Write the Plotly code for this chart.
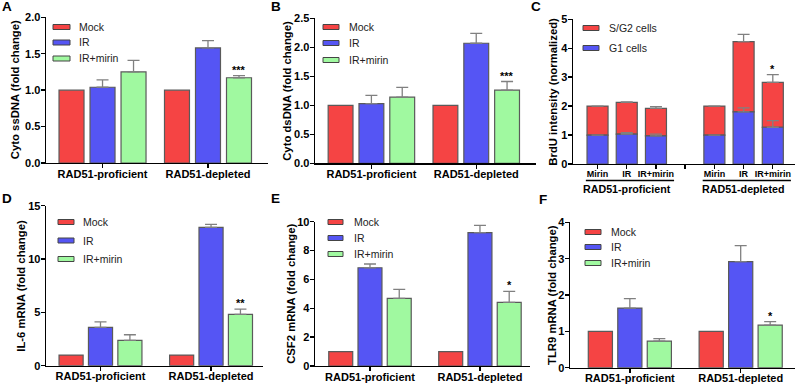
import plotly.graph_objects as go

W, H = 796, 386

# ---------------- data ----------------
groups = ["RAD51-proficient", "RAD51-depleted"]
treatments = ["Mock", "IR", "IR+mirin"]

# A: Cyto ssDNA (fold change)
ssdna_mock = [1.00, 1.00]
ssdna_ir = [1.04, 1.58]
ssdna_ir_err = [0.10, 0.10]
ssdna_irm = [1.25, 1.17]
ssdna_irm_err = [0.16, 0.03]

# B: Cyto dsDNA (fold change)
dsdna_mock = [1.00, 1.00]
dsdna_ir = [1.03, 2.07]
dsdna_ir_err = [0.14, 0.17]
dsdna_irm = [1.14, 1.26]
dsdna_irm_err = [0.17, 0.15]

# C: BrdU intensity (normalized)
brdu_conditions = ["Mirin", "IR", "IR+mirin"]
brdu_g1 = [1.00, 1.03, 0.97, 1.00, 1.80, 1.27]
brdu_g1_err = [0.00, 0.05, 0.06, 0.00, 0.14, 0.23]
brdu_sg2 = [1.00, 1.10, 0.95, 1.00, 2.43, 1.55]
brdu_sg2_err = [0.00, 0.02, 0.06, 0.00, 0.25, 0.27]

# D: IL-6 mRNA (fold change)
il6_mock = [1.0, 1.0]
il6_ir = [3.6, 12.97]
il6_ir_err = [0.5, 0.28]
il6_irm = [2.38, 4.81]
il6_irm_err = [0.52, 0.5]

# E: CSF2 mRNA (fold change)
csf2_mock = [1.0, 1.0]
csf2_ir = [6.81, 9.24]
csf2_ir_err = [0.26, 0.51]
csf2_irm = [4.69, 4.41]
csf2_irm_err = [0.62, 0.76]

# F: TLR9 mRNA (fold change)
tlr9_mock = [1.0, 1.0]
tlr9_ir = [1.64, 2.92]
tlr9_ir_err = [0.26, 0.44]
tlr9_irm = [0.73, 1.17]
tlr9_irm_err = [0.07, 0.10]

# ---------------- style ----------------
RED = "#F54444"
BLUE = "#5555F4"
GREEN = "#A0F9A0"
EDGE = "#5a5a5a"
ERR = "#808080"
FONT = "Liberation Sans"


def pxx(p):
    return p / W


def pxy(p):
    return 1 - p / H


fig = go.Figure()


def bold(size):
    return dict(family=FONT, size=size, color="black", weight="bold")


def err(arr):
    return dict(type="data", array=arr, arrayminus=[0] * len(arr), symmetric=False,
                color=ERR, thickness=1.3, width=6)


def grouped(xa, ya, series, w, slot):
    colors = [RED, BLUE, GREEN]
    for k, (name, vals, e) in enumerate(series):
        kw = dict(x=groups, y=vals, width=w, offset=(k - 1) * slot - w / 2, name=name,
                  marker=dict(color=colors[k], line=dict(color=EDGE, width=1.2)),
                  xaxis=xa, yaxis=ya, showlegend=False)
        if e is not None:
            kw["error_y"] = err(e)
        fig.add_bar(**kw)


TOP_W, TOP_S = 0.237, 0.294
BOT_W, BOT_S = 0.218, 0.266

grouped("x", "y", [("Mock", ssdna_mock, None), ("IR", ssdna_ir, ssdna_ir_err),
                   ("IR+mirin", ssdna_irm, ssdna_irm_err)], TOP_W, TOP_S)
grouped("x2", "y2", [("Mock", dsdna_mock, None), ("IR", dsdna_ir, dsdna_ir_err),
                     ("IR+mirin", dsdna_irm, dsdna_irm_err)], TOP_W, TOP_S)
grouped("x4", "y4", [("Mock", il6_mock, None), ("IR", il6_ir, il6_ir_err),
                     ("IR+mirin", il6_irm, il6_irm_err)], BOT_W, BOT_S)
grouped("x5", "y5", [("Mock", csf2_mock, None), ("IR", csf2_ir, csf2_ir_err),
                     ("IR+mirin", csf2_irm, csf2_irm_err)], BOT_W, BOT_S)
grouped("x6", "y6", [("Mock", tlr9_mock, None), ("IR", tlr9_ir, tlr9_ir_err),
                     ("IR+mirin", tlr9_irm, tlr9_irm_err)], BOT_W, BOT_S)

# C: stacked (S/G2 on top of G1); positions: 3 conditions per group, one gap slot
n_c = len(brdu_conditions)
c_pos = [g * (n_c + 1) + i for g in range(len(groups)) for i in range(n_c)]
fig.add_bar(x=c_pos, y=brdu_sg2, base=brdu_g1, width=0.72, name="S/G2 cells",
            marker=dict(color=RED, line=dict(color=EDGE, width=1.2)),
            error_y=err(brdu_sg2_err), xaxis="x3", yaxis="y3", showlegend=False)
fig.add_bar(x=c_pos, y=brdu_g1, width=0.72, name="G1 cells",
            marker=dict(color=BLUE, line=dict(color=EDGE, width=1.2)),
            error_y=err(brdu_g1_err), xaxis="x3", yaxis="y3", showlegend=False)

# ---------------- axes ----------------
axis_common = dict(showline=True, linecolor="black", linewidth=1.4, ticks="outside",
                   ticklen=4, tickwidth=1.4, tickcolor="black", showgrid=False,
                   zeroline=False, fixedrange=True, automargin=False)

# (x px domain, y px domain, x range, y range, y dtick, y tick format)
panels = {
    "": ((46, 268), (17.3, 163), (-0.536, 1.569), (0, 2), 0.5, ".1f"),
    "2": ((315, 536), (18.3, 163.3), (-0.538, 1.57), (0, 2.5), 0.5, ".1f"),
    "4": ((46, 263), (205.7, 365.7), (-0.493, 1.47), (0, 15), 5, "d"),
    "5": ((315, 530), (221.7, 366), (-0.5, 1.455), (0, 10), 2, "d"),
    "6": ((570, 795), (222.3, 367.7), (-0.54, 1.49), (0, 4), 1, "d"),
}
for s, (xd, yd, xr, yr, dt, fmt) in panels.items():
    fig.layout["xaxis" + s] = dict(axis_common, domain=[pxx(xd[0]), pxx(xd[1])],
                                   type="category", categoryarray=groups,
                                   range=list(xr), anchor="y" + s, tickfont=bold(11),
                                   ticklabelstandoff=-4)
    fig.layout["yaxis" + s] = dict(axis_common, domain=[pxy(yd[1]), pxy(yd[0])],
                                   range=list(yr), dtick=dt, tick0=0, tickformat=fmt,
                                   anchor="x" + s, tickfont=bold(11), ticklabelstandoff=-2)

fig.layout["xaxis3"] = dict(axis_common, domain=[pxx(573), pxx(795)], range=[-0.84, 6.76],
                            tickvals=list(range(0, 7)),
                            ticktext=brdu_conditions + [""] + brdu_conditions,
                            anchor="y3", tickfont=bold(9), ticklabelstandoff=-3)
fig.layout["yaxis3"] = dict(axis_common, domain=[pxy(164), pxy(19.3)], range=[0, 5],
                            dtick=1, tick0=0, anchor="x3", tickfont=bold(11),
                            ticklabelstandoff=-2)

annotations = []
shapes = []

# C group underlines + labels
for g, name in enumerate(groups):
    a = g * (n_c + 1)
    shapes.append(dict(type="line", xref="x3", yref="paper", x0=a - 0.4, x1=a + 2.62,
                       y0=pxy(180.5), y1=pxy(180.5), line=dict(color="black", width=1.3)))
    annotations.append(dict(xref="x3", yref="paper", x=a + 1, y=pxy(189), text=name,
                            showarrow=False, font=bold(10.7), yanchor="middle"))

# y-axis titles
ytitles = [
    (15, (17.3, 163), "Cyto ssDNA (fold change)"),
    (287, (18.3, 163.3), "Cyto dsDNA (fold change)"),
    (553, (19.3, 164), "BrdU intensity (normalized)"),
    (21, (205.7, 365.7), "IL-6 mRNA (fold change)"),
    (291, (221.7, 366), "CSF2 mRNA (fold change)"),
    (552, (222.3, 367.7), "TLR9 mRNA (fold change)"),
]
for xp, (y0, y1), t in ytitles:
    annotations.append(dict(xref="paper", yref="paper", x=pxx(xp), y=pxy((y0 + y1) / 2),
                            text=t, textangle=-90, showarrow=False, font=bold(11.3),
                            xanchor="center", yanchor="middle"))

# panel letters
for xp, yp, t in [(7, 6, "A"), (276, 6, "B"), (536, 6, "C"),
                  (7, 198, "D"), (275, 198, "E"), (543, 200, "F")]:
    annotations.append(dict(xref="paper", yref="paper", x=pxx(xp), y=pxy(yp), text=t,
                            showarrow=False, font=bold(13.5), xanchor="center",
                            yanchor="middle"))

# legends (box x0, box x1, text x, row y centers, labels, colors)
legends = [
    (53, 70, 77, [27, 42.5, 58.5], treatments, [RED, BLUE, GREEN]),
    (323, 339, 347, [27, 43, 60], treatments, [RED, BLUE, GREEN]),
    (583, 599, 607, [28, 48], ["S/G2 cells", "G1 cells"], [RED, BLUE]),
    (58, 74, 81, [222, 240.5, 259], treatments, [RED, BLUE, GREEN]),
    (328, 343, 352, [222, 238, 254], treatments, [RED, BLUE, GREEN]),
    (585, 601, 609, [232, 247, 263], treatments, [RED, BLUE, GREEN]),
]
for bx0, bx1, tx, ys, labels, cols in legends:
    for yc, lab, col in zip(ys, labels, cols):
        shapes.append(dict(type="rect", xref="paper", yref="paper", x0=pxx(bx0), x1=pxx(bx1),
                           y0=pxy(yc + 2.5), y1=pxy(yc - 2.5), fillcolor=col,
                           line=dict(color="#444", width=1)))
        annotations.append(dict(xref="paper", yref="paper", x=pxx(tx), y=pxy(yc), text=lab,
                                showarrow=False, xanchor="left", yanchor="middle",
                                font=dict(family=FONT, size=10.5, color="#222")))

# significance stars (above depleted IR+mirin bars)
stars = [
    ("x", "y", 1 + TOP_S, ssdna_irm[1] + ssdna_irm_err[1], "***"),
    ("x2", "y2", 1 + TOP_S, dsdna_irm[1] + dsdna_irm_err[1], "***"),
    ("x3", "y3", c_pos[-1], brdu_g1[-1] + brdu_sg2[-1] + brdu_sg2_err[-1], "*"),
    ("x4", "y4", 1 + BOT_S, il6_irm[1] + il6_irm_err[1], "**"),
    ("x5", "y5", 1 + BOT_S, csf2_irm[1] + csf2_irm_err[1], "*"),
    ("x6", "y6", 1 + BOT_S, tlr9_irm[1] + tlr9_irm_err[1], "*"),
]
for xa, ya, xv, yv, t in stars:
    annotations.append(dict(xref=xa, yref=ya, x=xv, y=yv, text=t, showarrow=False,
                            yanchor="bottom", yshift=-2, font=bold(11)))

fig.update_layout(template="none", width=W, height=H,
                  margin=dict(l=0, r=0, t=0, b=0, pad=0, autoexpand=False),
                  paper_bgcolor="white", plot_bgcolor="white", barmode="overlay",
                  font=dict(family=FONT, color="black"),
                  annotations=annotations, shapes=shapes)

fig.write_html("out.html", config={"displayModeBar": False, "staticPlot": True},
               post_script="document.body.style.margin='0';")
